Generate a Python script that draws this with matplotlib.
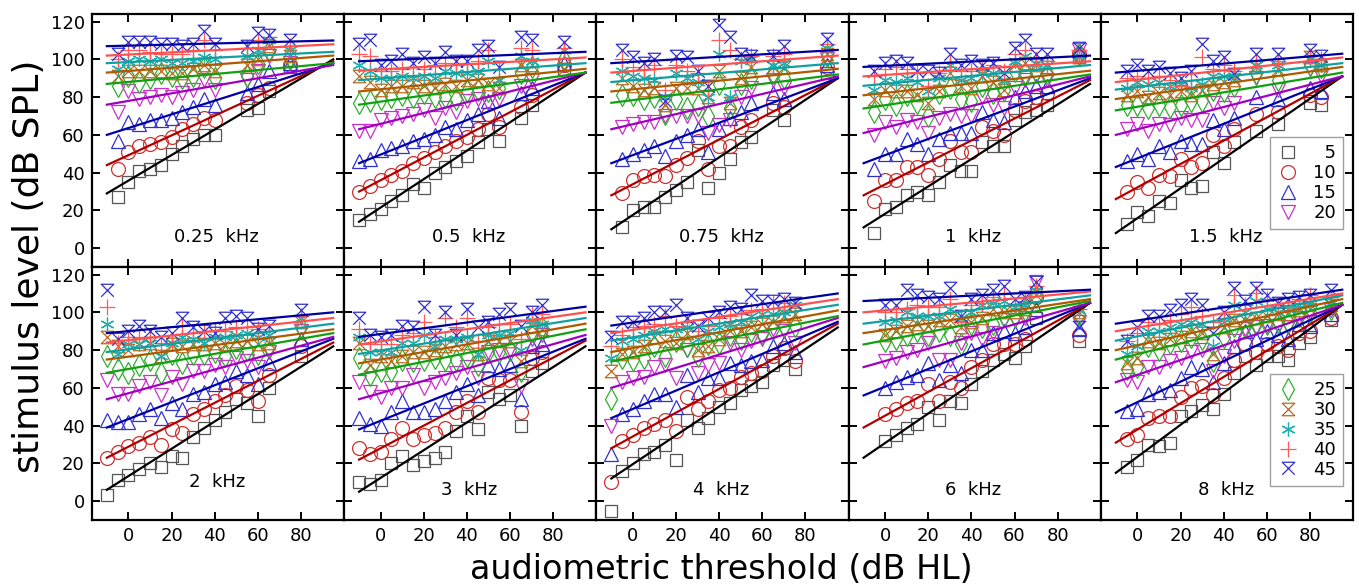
import numpy as np
import matplotlib
matplotlib.use('Agg')
from matplotlib import pyplot as plt
from matplotlib.path import Path

# loudness categories (legend) and frequencies (panels)
categories = [5, 10, 15, 20, 25, 30, 35, 40, 45]
freqs = ['0.25', '0.5', '0.75', '1', '1.5', '2', '3', '4', '6', '8']

# audiometric threshold (dB HL) per panel
thr_025 = [-5, 0, 5, 10, 15, 20, 25, 30, 35, 40, 55, 60, 65, 75]
thr_05 = [-10, -5, 0, 5, 10, 15, 20, 25, 30, 35, 40, 45, 50, 55, 65, 70, 85]
thr_075 = [-5, 0, 5, 10, 15, 20, 25, 30, 35, 40, 45, 50, 55, 65, 70, 90]
thr_1 = [-5, 0, 5, 10, 15, 20, 25, 30, 35, 40, 45, 50, 55, 60, 65, 70, 75, 90]
thr_15 = [-5, 0, 5, 10, 15, 20, 25, 30, 35, 40, 45, 55, 65, 80, 85]
thr_2 = [-10, -5, 0, 5, 10, 15, 20, 25, 30, 35, 40, 45, 50, 55, 60, 65, 80]
thr_3 = [-10, -5, 0, 5, 10, 15, 20, 25, 30, 35, 40, 45, 50, 55, 60, 65, 70, 75]
thr_4 = [-10, -5, 0, 5, 10, 15, 20, 25, 30, 35, 40, 45, 50, 55, 60, 65, 70, 75]
thr_6 = [0, 5, 10, 15, 20, 25, 30, 35, 40, 45, 50, 55, 60, 65, 70, 90]
thr_8 = [-5, 0, 5, 10, 15, 20, 25, 30, 35, 40, 45, 50, 55, 60, 65, 70, 75, 80, 90]

# stimulus level (dB SPL), one row per category
lvl_025 = [
    [27, 35, 41, 42, 44, 50, 54, 58, 60, 60, 73, 74, 83, 96],
    [42, 51, 54, 55, 56, 59, 63, 66, 69, 68, 77, 81, 85, 97],
    [57, 67, 66, 68, 68, 69, 72, 75, 79, 76, 82, 87, 94, 98],
    [72, 83, 79, 80, 81, 80, 82, 84, 89, 84, 89, 94, 102, 98],
    [86, 91, 88, 90, 93, 91, 90, 91, 96, 90, 91, 98, 105, 101],
    [91, 94, 94, 94, 94, 93, 93, 95, 97, 94, 97, 100, 107, 102],
    [95, 99, 100, 99, 100, 98, 98, 99, 101, 100, 102, 105, 110, 105],
    [100, 105, 105, 104, 103, 103, 103, 105, 110, 105, 106, 110, 112, 107],
    [103, 109, 109, 109, 108, 108, 107, 108, 115, 108, 107, 114, 113, 110],
]
lvl_05 = [
    [15, 18, 21, 25, 28, 34, 32, 40, 43, 46, 49, 56, 63, 57, 69, 76, 95],
    [30, 33, 36, 39, 41, 45, 48, 51, 54, 57, 59, 63, 71, 64, 75, 81, 97],
    [46, 47, 52, 53, 54, 57, 58, 60, 64, 63, 68, 71, 78, 69, 82, 85, 98],
    [62, 62, 68, 69, 70, 71, 73, 69, 74, 72, 78, 79, 77, 79, 86, 89, 97],
    [77, 78, 79, 80, 81, 80, 82, 80, 80, 79, 83, 84, 83, 85, 93, 96, 100],
    [91, 88, 84, 86, 86, 88, 86, 85, 87, 86, 89, 89, 87, 85, 97, 97, 95],
    [97, 94, 90, 90, 91, 90, 91, 90, 94, 93, 93, 94, 99, 89, 102, 99, 105],
    [103, 102, 94, 94, 95, 96, 95, 97, 98, 97, 98, 99, 105, 95, 106, 105, 106],
    [108, 110, 97, 99, 103, 98, 101, 98, 104, 99, 99, 105, 107, 96, 112, 110, 109],
]
lvl_075 = [
    [11, 20, 22, 22, 27, 31, 35, 52, 32, 40, 47, 56, 59, 73, 68, 93],
    [29, 36, 38, 39, 38, 44, 48, 57, 42, 54, 54, 64, 68, 77, 75, 96],
    [47, 50, 52, 54, 49, 57, 60, 63, 51, 63, 69, 72, 77, 82, 79, 97],
    [64, 66, 67, 67, 70, 70, 70, 70, 61, 65, 68, 80, 85, 89, 85, 100],
    [81, 81, 79, 80, 71, 79, 74, 76, 70, 87, 74, 87, 90, 93, 90, 102],
    [90, 86, 84, 85, 76, 85, 85, 85, 80, 94, 77, 90, 96, 96, 96, 103],
    [94, 91, 90, 89, 80, 93, 90, 88, 80, 103, 80, 99, 100, 97, 98, 106],
    [100, 96, 95, 97, 84, 97, 94, 93, 84, 110, 105, 100, 102, 102, 103, 108],
    [105, 101, 98, 100, 78, 102, 101, 94, 86, 118, 112, 103, 102, 102, 107, 111],
]
lvl_1 = [
    [8, 21, 22, 28, 30, 28, 35, 44, 41, 41, 56, 54, 54, 68, 72, 73, 76, 101],
    [25, 36, 36, 43, 43, 39, 47, 57, 51, 51, 64, 62, 60, 73, 78, 80, 82, 103],
    [42, 50, 50, 58, 55, 50, 58, 61, 61, 61, 72, 68, 67, 80, 83, 86, 86, 105],
    [60, 67, 64, 68, 67, 61, 69, 71, 70, 70, 80, 76, 74, 85, 89, 91, 89, 105],
    [72, 79, 76, 81, 77, 70, 82, 85, 79, 78, 86, 82, 84, 94, 93, 94, 93, 103],
    [79, 84, 83, 83, 81, 77, 83, 93, 86, 85, 91, 88, 84, 97, 98, 97, 96, 101],
    [84, 89, 88, 90, 88, 83, 90, 97, 89, 90, 93, 93, 89, 99, 102, 98, 97, 102],
    [91, 95, 96, 95, 93, 86, 93, 98, 94, 94, 95, 97, 94, 103, 105, 100, 99, 105],
    [94, 98, 99, 98, 94, 94, 93, 103, 97, 99, 97, 98, 93, 106, 110, 103, 103, 106],
]
lvl_15 = [
    [13, 19, 17, 25, 24, 36, 32, 33, 51, 45, 56, 62, 66, 77, 76],
    [30, 35, 32, 39, 38, 47, 43, 45, 60, 54, 63, 71, 72, 81, 80],
    [46, 50, 47, 54, 51, 57, 55, 55, 68, 63, 69, 80, 79, 85, 83],
    [63, 66, 62, 66, 65, 69, 68, 68, 77, 74, 77, 90, 84, 95, 91],
    [76, 76, 74, 76, 75, 76, 78, 78, 84, 83, 86, 93, 89, 97, 96],
    [81, 83, 80, 82, 81, 83, 81, 84, 87, 88, 89, 96, 95, 101, 97],
    [85, 88, 87, 88, 86, 87, 85, 87, 91, 91, 91, 97, 97, 100, 97],
    [90, 91, 90, 91, 89, 86, 89, 101, 95, 97, 94, 99, 99, 102, 100],
    [94, 97, 94, 96, 93, 90, 94, 108, 99, 101, 92, 103, 103, 105, 102],
]
lvl_2 = [
    [3, 11, 14, 17, 20, 18, 24, 23, 34, 39, 43, 47, 54, 52, 45, 60, 77],
    [23, 26, 29, 31, 34, 30, 38, 36, 46, 49, 53, 56, 61, 59, 53, 67, 82],
    [43, 42, 42, 46, 49, 44, 52, 49, 57, 58, 62, 63, 69, 67, 62, 73, 86],
    [64, 57, 57, 61, 63, 56, 66, 62, 69, 69, 72, 71, 76, 74, 71, 79, 90],
    [77, 70, 68, 72, 75, 68, 78, 73, 78, 78, 79, 77, 81, 80, 78, 82, 92],
    [87, 82, 80, 83, 84, 77, 83, 82, 83, 83, 84, 83, 85, 85, 83, 84, 95],
    [94, 78, 83, 83, 84, 77, 84, 87, 86, 84, 87, 87, 88, 89, 87, 88, 97],
    [103, 84, 87, 87, 87, 84, 85, 93, 89, 90, 90, 90, 92, 92, 91, 90, 98],
    [112, 86, 90, 93, 90, 87, 89, 97, 92, 90, 89, 97, 98, 97, 91, 93, 101],
]
lvl_3 = [
    [10, 9, 11, 20, 24, 19, 21, 23, 26, 37, 45, 38, 58, 54, 56, 40, 69, 73],
    [28, 25, 26, 33, 39, 33, 35, 36, 39, 47, 53, 47, 65, 64, 64, 47, 76, 79],
    [44, 41, 40, 47, 53, 47, 47, 49, 53, 58, 62, 56, 72, 70, 72, 54, 82, 83],
    [63, 58, 55, 60, 60, 67, 60, 63, 65, 68, 71, 65, 79, 80, 80, 61, 86, 88],
    [76, 67, 69, 69, 75, 74, 75, 76, 75, 75, 77, 72, 79, 79, 80, 69, 90, 92],
    [84, 72, 77, 74, 77, 79, 79, 80, 82, 83, 84, 78, 85, 85, 85, 74, 93, 91],
    [87, 79, 79, 79, 84, 84, 88, 82, 86, 86, 87, 78, 88, 88, 89, 80, 96, 94],
    [91, 83, 83, 83, 88, 89, 95, 87, 97, 92, 97, 85, 92, 94, 94, 86, 99, 99],
    [97, 88, 87, 88, 93, 92, 103, 88, 100, 88, 102, 92, 95, 99, 102, 93, 100, 104],
]
lvl_4 = [
    [-5, 16, 20, 25, 26, 30, 22, 43, 39, 44, 50, 52, 59, 61, 63, 72, 75, 70],
    [10, 32, 35, 39, 41, 43, 37, 55, 49, 53, 59, 60, 66, 68, 69, 77, 81, 74],
    [25, 46, 49, 53, 57, 57, 50, 67, 58, 65, 65, 73, 72, 74, 75, 82, 84, 79],
    [40, 63, 65, 66, 71, 72, 65, 80, 68, 72, 73, 84, 80, 85, 86, 91, 90, 84],
    [54, 76, 75, 76, 82, 77, 85, 82, 77, 83, 84, 88, 86, 90, 89, 91, 93, 93],
    [69, 78, 79, 82, 87, 85, 84, 89, 80, 82, 86, 90, 90, 92, 94, 95, 98, 99],
    [76, 85, 86, 88, 90, 91, 91, 92, 86, 90, 92, 94, 95, 98, 99, 99, 100, 104],
    [82, 88, 92, 93, 94, 98, 93, 95, 90, 93, 97, 98, 99, 101, 102, 105, 105, 104],
    [87, 95, 95, 97, 100, 100, 104, 97, 93, 97, 100, 103, 102, 109, 106, 106, 107, 105],
]
lvl_6 = [
    [32, 35, 39, 41, 50, 43, 53, 52, 62, 69, 75, 78, 76, 82, 97, 85],
    [46, 49, 52, 53, 62, 53, 63, 60, 71, 75, 83, 83, 83, 86, 108, 88],
    [60, 63, 66, 67, 73, 64, 72, 68, 80, 80, 89, 90, 89, 92, 102, 91],
    [74, 76, 79, 80, 84, 75, 75, 84, 89, 86, 89, 96, 96, 97, 116, 95],
    [85, 86, 88, 90, 88, 90, 88, 83, 94, 92, 94, 98, 98, 101, 108, 99],
    [88, 90, 93, 94, 93, 96, 96, 92, 95, 97, 102, 100, 100, 102, 109, 100],
    [95, 96, 100, 98, 98, 98, 102, 97, 100, 104, 105, 106, 103, 104, 112, 101],
    [100, 100, 102, 104, 103, 103, 107, 95, 104, 105, 108, 110, 104, 106, 114, 102],
    [104, 104, 112, 109, 108, 107, 113, 98, 107, 109, 112, 114, 107, 108, 116, 92],
]
lvl_8 = [
    [18, 22, 30, 29, 31, 45, 48, 51, 49, 57, 68, 77, 72, 77, 77, 75, 84, 87, 96],
    [33, 35, 44, 45, 45, 55, 60, 61, 56, 65, 75, 83, 79, 83, 82, 80, 89, 90, 97],
    [48, 49, 57, 58, 59, 65, 71, 70, 63, 73, 82, 90, 86, 90, 88, 86, 94, 93, 99],
    [64, 63, 71, 71, 74, 76, 79, 80, 69, 77, 85, 91, 92, 93, 93, 92, 97, 100, 101],
    [70, 71, 82, 80, 84, 85, 87, 86, 74, 87, 93, 92, 94, 94, 95, 95, 98, 100, 102],
    [73, 76, 85, 84, 86, 87, 90, 89, 78, 92, 96, 96, 97, 98, 99, 99, 101, 102, 104],
    [78, 82, 90, 90, 92, 94, 95, 94, 82, 95, 104, 100, 106, 102, 100, 102, 104, 105, 105],
    [85, 89, 95, 94, 96, 99, 103, 98, 95, 97, 109, 104, 110, 107, 103, 104, 107, 109, 108],
    [85, 92, 98, 98, 101, 104, 107, 104, 89, 100, 113, 106, 113, 109, 105, 107, 108, 109, 112],
]

# fitted lines: level at threshold -10 and at 95 dB HL, one row per panel
fit_x = [-10, 95]
fit_start = [
    [29, 44, 60, 76, 87, 93, 98, 102, 107],
    [14, 30, 45, 63, 76, 83, 89, 94, 99],
    [10, 28, 45, 63, 77, 83, 88, 93, 98],
    [11, 28, 45, 61, 74, 81, 86, 91, 96],
    [8, 26, 43, 60, 73, 79, 84, 88, 93],
    [6, 23, 39, 54, 68, 75, 79, 84, 89],
    [5, 22, 38, 54, 67, 73, 78, 83, 87],
    [12, 28, 44, 60, 74, 79, 85, 89, 93],
    [23, 39, 56, 71, 83, 89, 94, 100, 106],
    [15, 31, 47, 63, 75, 80, 85, 90, 94],
]
fit_end = [
    [100, 99, 98, 97, 98, 102, 104, 108, 110],
    [93, 93, 93, 93, 93, 95, 98, 101, 104],
    [90, 90, 90, 91, 92, 95, 98, 102, 105],
    [87, 89, 90, 91, 92, 94, 97, 99, 102],
    [91, 91, 91, 91, 93, 96, 98, 101, 103],
    [82, 84, 86, 87, 89, 91, 94, 97, 100],
    [82, 85, 86, 88, 91, 94, 97, 100, 103],
    [92, 94, 95, 97, 98, 101, 104, 107, 110],
    [105, 105, 105, 105, 106, 107, 109, 111, 112],
    [104, 104, 104, 104, 105, 107, 109, 110, 112],
]

thr_all = [thr_025, thr_05, thr_075, thr_1, thr_15, thr_2, thr_3, thr_4, thr_6, thr_8]
lvl_all = [lvl_025, lvl_05, lvl_075, lvl_1, lvl_15, lvl_2, lvl_3, lvl_4, lvl_6, lvl_8]

hourglass = Path([(-1, 1), (1, 1), (-1, -1), (1, -1), (-1, 1)],
                 [Path.MOVETO, Path.LINETO, Path.LINETO, Path.LINETO, Path.CLOSEPOLY])
xbar = Path([(-1, -1), (1, 1), (-1, 1), (1, -1)],
            [Path.MOVETO, Path.LINETO, Path.LINETO, Path.LINETO])

markers = ['s', 'o', '^', 'v', 'd', hourglass, (6, 2, 0), '+', xbar]
msizes = [9, 10, 10, 10, 11, 9, 10, 11, 9]
mcolors = ['#555555', '#d03030', '#3030d0', '#cc30cc', '#30b030',
           '#b86a20', '#20b0b0', '#ff5a5a', '#3030d0']
lcolors = ['#000000', '#b00000', '#0000a8', '#a000c0', '#10a010',
           '#b05a00', '#10a0a0', '#ff5050', '#0000a0']

plt.rcParams['font.family'] = 'DejaVu Sans'
fig, axes = plt.subplots(2, 5, figsize=(13.59, 5.86), dpi=100, sharex=True, sharey=True)
fig.subplots_adjust(left=0.0675, right=0.9956, top=0.976, bottom=0.1126, wspace=0, hspace=0)

handles = []
for k, ax in enumerate(axes.flat):
    for i in range(len(categories)):
        lab = ('\u2007' if categories[i] < 10 else '') + str(categories[i])
        h, = ax.plot(thr_all[k], lvl_all[k][i], linestyle='none', marker=markers[i],
                     ms=msizes[i], mfc='none', mec=mcolors[i], mew=0.9, zorder=2, label=lab)
        if k == 0:
            handles.append(h)
        ax.plot(fit_x, [fit_start[k][i], fit_end[k][i]], color=lcolors[i], lw=1.6, zorder=3)
    ypos = 10 if freqs[k] == '2' else 6
    ax.text(41, ypos, freqs[k] + '  kHz', ha='center', va='center', fontsize=13)
    ax.set_xlim(-17, 100)
    ax.set_ylim(-10, 124)
    ax.set_xticks([0, 20, 40, 60, 80])
    ax.set_yticks([0, 20, 40, 60, 80, 100, 120])
    ax.tick_params(direction='in', length=6, width=1.4, top=True, right=True,
                   labelsize=13, pad=5)
    for s in ax.spines.values():
        s.set_linewidth(1.6)

leg_kw = dict(loc='lower right', frameon=True, fancybox=False, edgecolor='#888888',
              fontsize=13, handletextpad=0.8, borderpad=0.4, labelspacing=0.1,
              handlelength=1.2, borderaxespad=0)
l1 = axes[0, 4].legend(handles=handles[:4], bbox_to_anchor=(0.962, 0.15), **leg_kw)
l1.get_frame().set_linewidth(1.0)
l2 = axes[1, 4].legend(handles=handles[4:], bbox_to_anchor=(0.962, 0.135), **leg_kw)
l2.get_frame().set_linewidth(1.0)

fig.text(0.021, 0.545, 'stimulus level (dB SPL)', rotation=90, ha='center', va='center', fontsize=26)
fig.text(0.531, 0.028, 'audiometric threshold (dB HL)', ha='center', va='center', fontsize=24)

plt.savefig('out.png', dpi=100)
